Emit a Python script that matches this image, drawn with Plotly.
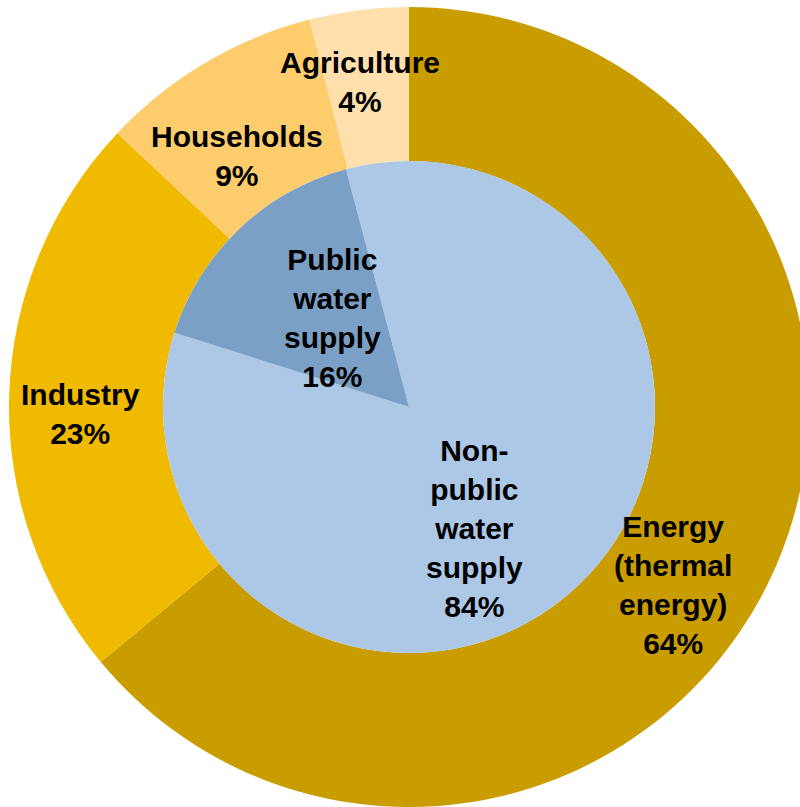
import math
import plotly.graph_objects as go

# ---- data ----
outer_labels = ["Energy<br>(thermal<br>energy)", "Industry", "Households", "Agriculture"]
outer_values = [64, 23, 9, 4]
outer_colors = ["#C99C00", "#F0BA00", "#FDCC6C", "#FFE0AC"]

inner_labels = ["Non-<br>public<br>water<br>supply", "Public<br>water<br>supply"]
inner_values = [84, 16]
inner_colors = ["#ADC8E6", "#7BA0C6"]

# ---- geometry (pixels) ----
W, H = 810, 807
CX, CY = 409, 407          # centre from top-left
R_OUT, R_IN = 400, 246
OUTER_ROT = 0
INNER_ROT = -14.85

# per-label nudges in pixels (dx, dy downward)
outer_nudge = [(-28, 40), (-6, 17), (-8, 27), (-9, -5)]
inner_nudge = [(-28, 24), (17, 9)]

def dom(cx, cy, r):
    return dict(x=[(cx - r) / W, (cx + r) / W],
                y=[(H - cy - r) / H, (H - cy + r) / H])

fig = go.Figure()
fig.add_trace(go.Pie(
    values=outer_values, labels=outer_labels, sort=False, direction="clockwise",
    rotation=OUTER_ROT, hole=R_IN / R_OUT, marker=dict(colors=outer_colors, line=dict(width=0)),
    textinfo="none", hoverinfo="skip", domain=dom(CX, CY, R_OUT), showlegend=False))
fig.add_trace(go.Pie(
    values=inner_values, labels=inner_labels, sort=False, direction="clockwise",
    rotation=INNER_ROT, marker=dict(colors=inner_colors, line=dict(width=0)),
    textinfo="none", hoverinfo="skip", domain=dom(CX, CY, R_IN), showlegend=False))

def add_labels(labels, values, rot, r_lab, nudges):
    total = sum(values)
    start = rot
    for lab, v, (dx, dy) in zip(labels, values, nudges):
        span = v / total * 360
        mid = math.radians(start + span / 2)
        px = CX + r_lab * math.sin(mid) + dx
        py = CY - r_lab * math.cos(mid) + dy
        start += span
        fig.add_annotation(
            x=px / W, y=1 - py / H, xref="paper", yref="paper",
            text="<b>%s<br>%d%%</b>" % (lab, v), showarrow=False,
            xanchor="center", yanchor="middle", align="center",
            font=dict(family="Liberation Sans, Arial, sans-serif", size=30, color="black"))

add_labels(outer_labels, outer_values, OUTER_ROT, (R_IN + R_OUT) / 2, outer_nudge)
add_labels(inner_labels, inner_values, INNER_ROT, 135, inner_nudge)

fig.update_layout(width=W, height=H, margin=dict(l=0, r=0, t=0, b=0),
                  paper_bgcolor="white", plot_bgcolor="white")

fig.write_html("out.html",
               post_script="document.documentElement.style.overflow='hidden';document.body.style.overflow='hidden';")
